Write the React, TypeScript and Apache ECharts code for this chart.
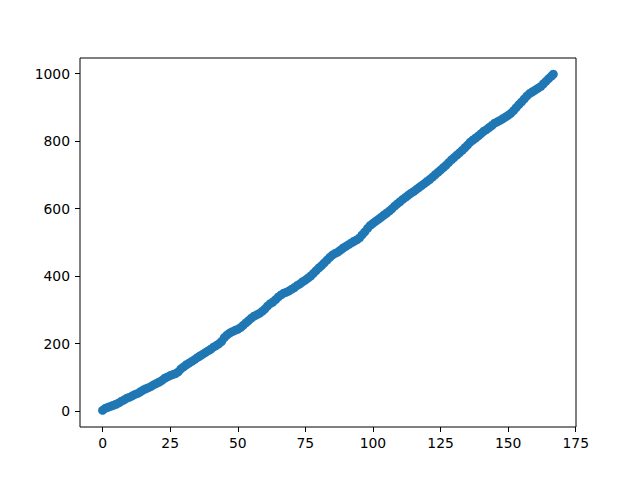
import React, { useEffect, useRef } from "react";
import * as echarts from "echarts";

const xValues: number[] = [
  0, 1, 2, 3, 4, 5, 6, 7, 8, 9, 10, 11, 12, 13, 14, 15, 16, 17, 18, 19,
  20, 21, 22, 23, 24, 25, 26, 27, 28, 29, 30, 31, 32, 33, 34, 35, 36, 37, 38, 39,
  40, 41, 42, 43, 44, 45, 46, 47, 48, 49, 50, 51, 52, 53, 54, 55, 56, 57, 58, 59,
  60, 61, 62, 63, 64, 65, 66, 67, 68, 69, 70, 71, 72, 73, 74, 75, 76, 77, 78, 79,
  80, 81, 82, 83, 84, 85, 86, 87, 88, 89, 90, 91, 92, 93, 94, 95, 96, 97, 98, 99,
  100, 101, 102, 103, 104, 105, 106, 107, 108, 109, 110, 111, 112, 113, 114, 115, 116, 117, 118, 119,
  120, 121, 122, 123, 124, 125, 126, 127, 128, 129, 130, 131, 132, 133, 134, 135, 136, 137, 138, 139,
  140, 141, 142, 143, 144, 145, 146, 147, 148, 149, 150, 151, 152, 153, 154, 155, 156, 157, 158, 159,
  160, 161, 162, 163, 164, 165, 166, 166.7,
];

const yValues: number[] = [
  2, 8, 11, 14, 17, 20, 24, 29, 33, 38, 41, 45, 49, 52, 57, 62, 66, 69, 73, 78,
  82, 86, 91, 97, 101, 105, 108, 111, 116, 125, 131, 137, 142, 147, 152, 158, 163, 168, 173, 178,
  183, 189, 194, 199, 206, 217, 225, 231, 235, 239, 242, 247, 254, 261, 268, 275, 281, 285, 289, 295,
  302, 311, 318, 323, 330, 338, 344, 349, 352, 356, 361, 366, 372, 377, 383, 388, 394, 400, 408, 416,
  424, 431, 439, 447, 455, 462, 467, 471, 477, 483, 488, 493, 498, 503, 507, 513, 522, 531, 541, 550,
  556, 562, 568, 574, 580, 586, 592, 599, 607, 614, 620, 627, 633, 639, 645, 650, 656, 662, 668, 674,
  680, 686, 693, 700, 707, 714, 721, 728, 736, 744, 751, 758, 765, 772, 780, 788, 797, 803, 809, 815,
  822, 829, 834, 840, 846, 853, 857, 861, 866, 871, 876, 882, 890, 899, 908, 916, 925, 934, 941, 946,
  951, 956, 961, 969, 977, 985, 992, 998,
];

const xTicks: number[] = [0, 25, 50, 75, 100, 125, 150, 175];
const yTicks: number[] = [0, 200, 400, 600, 800, 1000];

export default function App() {
  const ref = useRef<HTMLDivElement>(null);

  useEffect(() => {
    if (!ref.current) return;
    const chart = echarts.init(ref.current, null, { renderer: "svg" });
    const data = xValues.map((x, i) => [x, yValues[i]]);
    const font = "DejaVu Sans";
    chart.setOption({
      animation: false,
      backgroundColor: "#ffffff",
      grid: {
        left: 80,
        right: 64,
        top: 58,
        bottom: 53,
        show: true,
        borderColor: "#000000",
        borderWidth: 1,
        backgroundColor: "transparent",
      },
      xAxis: {
        type: "value",
        position: "bottom",
        min: -8.35,
        max: 175.1,
        axisLine: { show: false, onZero: false },
        splitLine: { show: false },
        axisTick: {
          show: true,
          inside: false,
          length: 5,
          lineStyle: { color: "#000000", width: 1 },
          customValues: xTicks,
        },
        axisLabel: {
          color: "#000000",
          fontFamily: font,
          fontSize: 13.9,
          margin: 9,
          customValues: xTicks,
          formatter: (v: number) => String(v),
        },
      },
      yAxis: {
        type: "value",
        position: "left",
        min: -47.4,
        max: 1046,
        axisLine: { show: false, onZero: false },
        splitLine: { show: false },
        axisTick: {
          show: true,
          inside: false,
          length: 5,
          lineStyle: { color: "#000000", width: 1 },
          customValues: yTicks,
        },
        axisLabel: {
          color: "#000000",
          fontFamily: font,
          fontSize: 13.9,
          margin: 10,
          customValues: yTicks,
          formatter: (v: number) => String(v),
        },
      },
      series: [
        {
          type: "scatter",
          data,
          symbol: "circle",
          symbolSize: 9,
          itemStyle: { color: "#1f77b4", opacity: 1 },
          emphasis: { disabled: true },
        },
      ],
    });
    return () => chart.dispose();
  }, []);

  return (
    <div
      ref={ref}
      style={{ position: "fixed", left: 0, top: 0, width: 640, height: 480, background: "#fff" }}
    />
  );
}
